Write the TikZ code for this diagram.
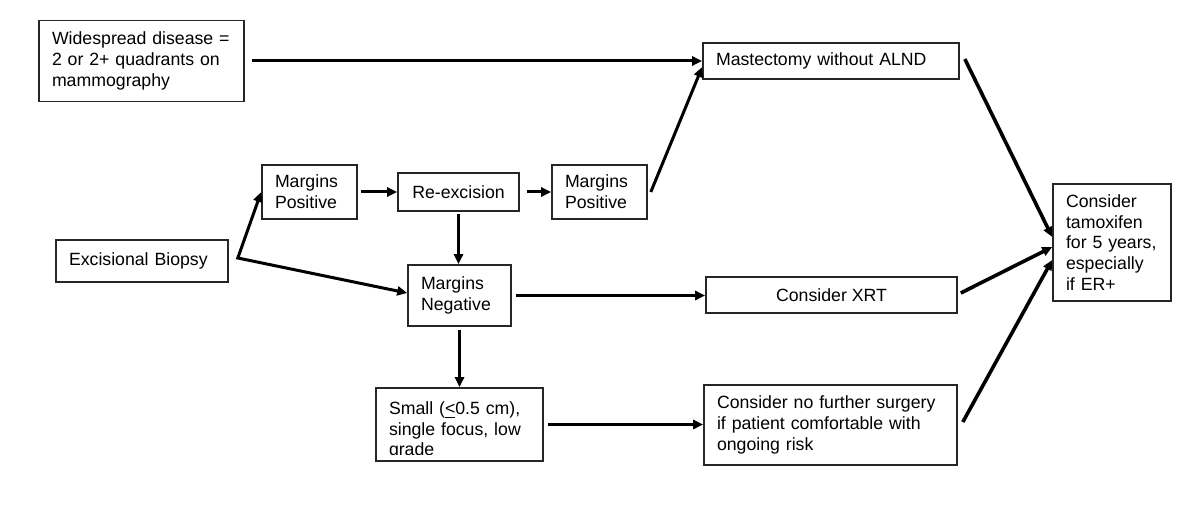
\documentclass[tikz,border=0pt]{standalone}
\usepackage{fontspec}
\setmainfont{Liberation Sans}
\usetikzlibrary{arrows.meta,calc}
\begin{document}
\begin{tikzpicture}[x=0.5pt,y=-0.5pt,
  every node/.style={font=\fontsize{8.85pt}{10.35pt}\selectfont},
  box/.style={draw=black!85, line width=0.8pt, inner xsep=6.5pt, inner ysep=0pt, align=left},
  cbox/.style={draw=black!85, line width=0.8pt, inner sep=0pt, align=center},
  arr/.style={line width=1.5pt, -{Triangle[length=5pt,width=4.5pt]}},
  arrb/.style={line width=1.5pt, {Triangle[length=5pt,width=4.5pt]}-{Triangle[length=5pt,width=4.5pt]}}
]
\useasboundingbox (0,0) rectangle (1200,519);

\node[box, minimum width=102.5pt, minimum height=40.5pt, text width=89.5pt] (wide) at (141.5,61)
  {Widespread disease =\\2 or 2+ quadrants on\\mammography};
\node[box, minimum width=128pt, minimum height=18pt, text width=115pt] (mast) at (831,61)
  {Mastectomy without ALND};
\node[box, minimum width=59pt, minimum height=58.5pt, text width=46pt] (tam) at (1112,242.5)
  {Consider\\tamoxifen\\for 5 years,\\especially\\if ER+};
\node[cbox, minimum width=125.5pt, minimum height=18pt] (xrt) at (831.5,295)
  {Consider XRT};
\node[box, minimum width=47.5pt, minimum height=27pt, text width=34.5pt] (mp1) at (309.5,192)
  {Margins\\Positive};
\node[cbox, minimum width=60.5pt, minimum height=19pt] (rex) at (458.5,192)
  {Re-excision};
\node[box, minimum width=47.5pt, minimum height=27pt, text width=34.5pt] (mp2) at (599.5,192)
  {Margins\\Positive};
\node[box, minimum width=51.5pt, minimum height=30.5pt, text width=38.5pt] (mn) at (459.5,295.5)
  {Margins\\Negative};
\node[box, minimum width=86pt, minimum height=21pt, text width=73pt] (exc) at (142,261)
  {Excisional Biopsy};
\begin{scope}
  \clip (376,388) rectangle (543,454);
  \node[box, draw=none, minimum width=83.5pt, minimum height=36.5pt, text width=70.5pt, yshift=-3pt] (smalltxt) at (459.5,424.5)
    {Small (\underline{<}0.5 cm),\\single focus, low\\grade};
\end{scope}
\node[cbox, minimum width=83.5pt, minimum height=36.5pt] (small) at (459.5,424.5) {};
\node[box, minimum width=126.5pt, minimum height=40pt, text width=113.5pt] (nofur) at (830.5,425)
  {Consider no further surgery\\if patient comfortable with\\ongoing risk};

\coordinate (J) at ($(exc.east)+(9,-3)$);

\draw[arr] ($(wide.east)+(7,0)$) -- (mast.west);
\draw[arrb] (mp1.west) -- (J) -- ($(mn.west)+(0,-2.5)$);
\draw[arr, shorten <=1.5pt] (mp1) -- (rex);
\draw[arr, shorten <=3.5pt] (rex) -- (mp2);
\draw[arr, shorten <=1pt] (rex.south) -- (rex.south|-mn.north);
\draw[arr] ($(mp2.east)+(3,0)$) -- ($(mast.west)+(0,6)$);
\draw[arr, shorten <=2pt] (mn.east) -- (mn.east-|xrt.west);
\draw[arr, shorten <=1.5pt] (mn.south) -- (mn.south|-small.north);
\draw[arr, shorten <=2pt] (small.east) -- (small.east-|nofur.west);
\draw[arr, line width=1.8pt] ($(mast.east)+(5,-2)$) -- ($(tam.west)+(0,-5.5)$);
\draw[arr, line width=1.8pt] ($(xrt.east)+(3,-2)$) -- ($(tam.west)+(0,4.5)$);
\draw[arr, line width=1.8pt] ($(nofur.east)+(5,-3)$) -- ($(tam.west)+(0,17.5)$);
\end{tikzpicture}
\end{document}
